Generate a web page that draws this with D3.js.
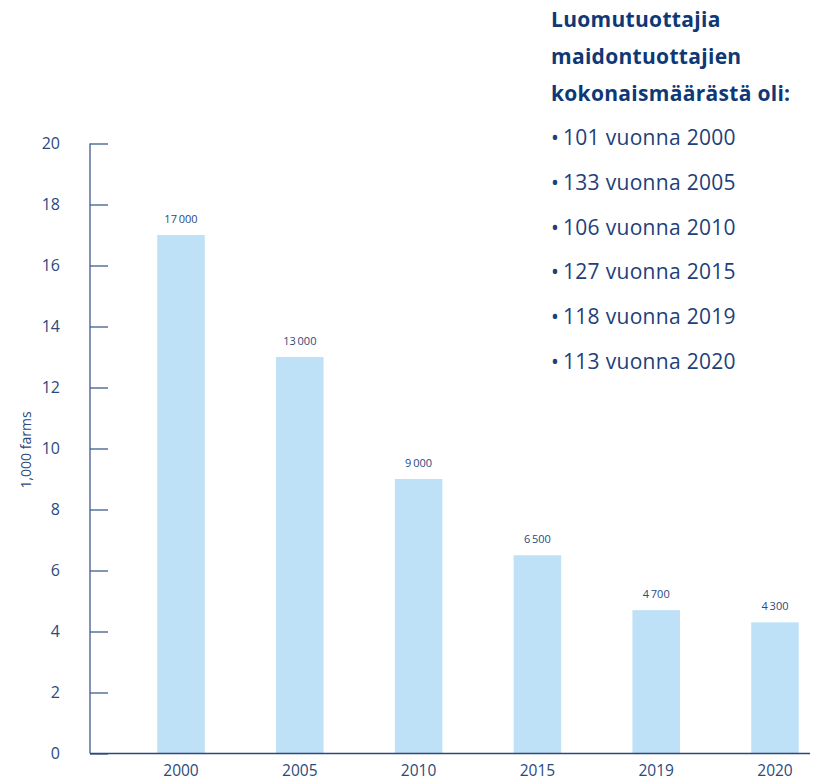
<!DOCTYPE html>
<html>
<head>
<meta charset="utf-8">
<script src="https://cdn.jsdelivr.net/npm/d3@7"></script>
<style>
  body { margin: 0; background: #fff; }
  svg { display: block; font-family: "Open Sans", "DejaVu Sans", sans-serif; }
</style>
</head>
<body>
<svg class="main" width="823" height="781"></svg>
<script>
// bars: dairy farms, thousands
var years = ["2000", "2005", "2010", "2015", "2019", "2020"];
var farms = [17, 13, 9, 6.5, 4.7, 4.3];
var yTicks = [0, 2, 4, 6, 8, 10, 12, 14, 16, 18, 20];

// side note: organic producers per year
var noteTitle = ["Luomutuottajia", "maidontuottajien", "kokonaismäärästä oli:"];
var organic = [101, 133, 106, 127, 118, 113];

var axisColor = "#3d5d8c";
var textColor = "#2a4a7c";
var barColor = "#bee1f7";

var svg = d3.select("svg.main");

var x = d3.scaleBand()
    .domain(years)
    .range([121.6, 834.4])
    .paddingInner(0.6)
    .paddingOuter(0.3);

var y = d3.scaleLinear()
    .domain([0, 20])
    .range([753.5, 143.5]);

function fmt(v) {
    // 17 -> "17 000"
    var s = Math.round(v * 1000).toString();
    return s.slice(0, s.length - 3) + "\u2009" + s.slice(s.length - 3);
}

// bars
svg.selectAll("rect.bar")
    .data(farms)
    .enter().append("rect")
    .attr("class", "bar")
    .attr("x", function (d, i) { return x(years[i]); })
    .attr("width", x.bandwidth())
    .attr("y", function (d) { return y(d); })
    .attr("height", function (d) { return y(0) - y(d); })
    .attr("fill", barColor);

svg.selectAll("text.val")
    .data(farms)
    .enter().append("text")
    .attr("class", "val")
    .attr("x", function (d, i) { return x(years[i]) + x.bandwidth() / 2; })
    .attr("y", function (d) { return y(d) - 12; })
    .attr("text-anchor", "middle")
    .attr("font-size", 11)
    .attr("fill", textColor)
    .text(function (d) { return fmt(d); });

// y axis
var yAxis = d3.axisLeft(y).tickValues(yTicks).tickSize(-18).tickPadding(30);
var gy = svg.append("g")
    .attr("transform", "translate(90,0)")
    .call(yAxis);
gy.select(".domain").attr("stroke", axisColor).attr("stroke-width", 1.3)
    .attr("d", "M0," + y(20) + "V" + y(0));
gy.selectAll(".tick line").attr("stroke", axisColor).attr("stroke-width", 1.3);
gy.selectAll(".tick text")
    .attr("font-size", 16)
    .attr("fill", textColor)
    .attr("font-family", "'Open Sans', sans-serif");

// x axis
svg.append("line")
    .attr("x1", 90).attr("x2", 810)
    .attr("y1", y(0)).attr("y2", y(0))
    .attr("stroke", "#2a4a7c")
    .attr("stroke-width", 1.5);

svg.selectAll("text.year")
    .data(years)
    .enter().append("text")
    .attr("class", "year")
    .attr("x", function (d) { return x(d) + x.bandwidth() / 2; })
    .attr("y", 776)
    .attr("text-anchor", "middle")
    .attr("font-size", 15.5)
    .attr("fill", textColor)
    .text(function (d) { return d; });

// y label
svg.append("text")
    .attr("transform", "translate(31,450) rotate(-90)")
    .attr("text-anchor", "middle")
    .attr("font-size", 14)
    .attr("fill", textColor)
    .text("1,000 farms");

// note on the right
svg.selectAll("text.title")
    .data(noteTitle)
    .enter().append("text")
    .attr("class", "title")
    .attr("x", 551)
    .attr("y", function (d, i) { return 27 + i * 37; })
    .attr("font-size", 21)
    .attr("letter-spacing", 0.3)
    .attr("font-weight", "bold")
    .attr("fill", "#0e3876")
    .text(function (d) { return d; });

svg.selectAll("text.item")
    .data(organic)
    .enter().append("text")
    .attr("class", "item")
    .attr("x", 551)
    .attr("y", function (d, i) { return 145 + i * 44.8; })
    .attr("font-size", 21)
    .attr("letter-spacing", 0.3)
    .attr("fill", "#1e4079")
    .text(function (d, i) { return "\u2022\u2009" + d + " vuonna " + years[i]; });
</script>
</body>
</html>
